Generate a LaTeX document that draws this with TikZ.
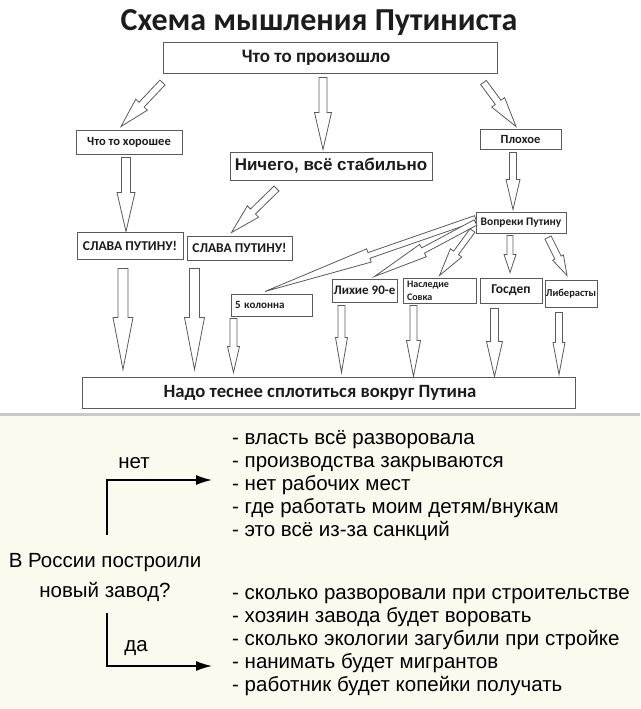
\documentclass[tikz,border=0pt]{standalone}
\usepackage{fontspec}
\setmainfont{Liberation Sans}
\newfontfamily\calib{Carlito}
\usetikzlibrary{calc,arrows.meta}
\newcommand\fsz[2]{\fontsize{#1}{#2}\selectfont}
\definecolor{beige}{HTML}{FBFAEF}
\definecolor{sepgray}{HTML}{C9C9C5}
\definecolor{boxgray}{HTML}{5A5A5A}
\definecolor{inkgray}{HTML}{1C1C1C}

\begin{document}
\begin{tikzpicture}[x=1pt, y=-1pt,
		box/.style={draw=boxgray, line width=1pt, inner sep=0pt, text=inkgray},
		hollow/.style n args={3}{draw=boxgray, line width=0.8pt, fill=white, to path={
			($(\tikztotarget)!#3!(\tikztostart)$) coordinate (hb)
			($(\tikztostart)!#1!90:(\tikztotarget)$) -- ($(hb)!#1!90:(\tikztotarget)$)
			-- ($(hb)!#2!90:(\tikztotarget)$) -- (\tikztotarget)
			-- ($(hb)!#2!-90:(\tikztotarget)$) -- ($(hb)!#1!-90:(\tikztotarget)$)
			-- ($(\tikztostart)!#1!-90:(\tikztotarget)$) -- cycle}},
		flow/.style={line width=1.4pt, -{Latex[length=16pt,width=10pt]}}]
	\useasboundingbox (0,0) rectangle (640,709); % page size
	\fill[beige] (0,414) rectangle (640,709); % lower panel
	\draw[sepgray, line width=3pt] (0,414) -- (640,414);
	\node[font=\calib\bfseries\fsz{32}{32}, text=inkgray] (title) at (319,23) {Схема мышления Путиниста};
	\node[box, minimum width=334pt, minimum height=30pt, font=\calib\bfseries\fsz{19}{20}] (happen) at (330,58) {\hspace*{-28pt}Что то произошло};
	\node[box, minimum width=106pt, minimum height=24pt, font=\calib\bfseries\fsz{12.5}{14}] (good) at (129,142) {Что то хорошее};
	\node[box, minimum width=81pt, minimum height=20pt, font=\calib\bfseries\fsz{12.5}{14}] (bad) at (520.5,139) {Плохое};
	\node[box, minimum width=202pt, minimum height=28pt, font=\bfseries\fsz{17}{19}] (stable) at (331,166) {Ничего, всё стабильно};
	\node[box, minimum width=106pt, minimum height=27pt, font=\calib\bfseries\fsz{13.5}{15}] (glory1) at (130,245.5) {СЛАВА ПУТИНУ!};
	\node[box, minimum width=105pt, minimum height=24pt, font=\calib\bfseries\fsz{13.5}{15}] (glory2) at (239.5,248) {СЛАВА ПУТИНУ!};
	\node[box, minimum width=90pt, minimum height=21pt, font=\calib\bfseries\fsz{11.5}{13}] (despite) at (521,222.5) {Вопреки Путину};
	\node[box, text width=73pt, inner xsep=4pt, minimum height=22pt, align=left, font=\calib\bfseries\fsz{11}{13}] (col5) at (271.5,305) {5 колонна};
	\node[box, minimum width=65pt, minimum height=23pt, font=\calib\bfseries\fsz{13}{15}] (wild90) at (364.5,290.5) {Лихие 90-е};
	\node[box, text width=65pt, inner xsep=4pt, minimum height=25pt, align=left, font=\calib\bfseries\fsz{10}{13}] (sovok) at (439.5,290.5) {Наследие\\Совка};
	\node[box, minimum width=62pt, minimum height=25pt, font=\calib\bfseries\fsz{13.5}{15}] (statedep) at (511,290.5) {Госдеп};
	\node[box, minimum width=52pt, minimum height=27pt, font=\calib\bfseries\fsz{10.5}{12}] (liberals) at (571,293.5) {Либерасты};
	\node[box, minimum width=493pt, minimum height=31pt, font=\calib\bfseries\fsz{18.7}{20}] (rally) at (328.5,392.5) {\hspace*{-17pt}Надо теснее сплотиться вокруг Путина};
	\draw[hollow={3.5pt}{8pt}{30pt}] ($(happen.south west)+(0,9)$) to ($(good.north)+(-8,-3)$); % to the good
	\draw[hollow={4pt}{8.5pt}{37pt}] ($(happen.south)+(-7,4)$) to ($(stable.north)+(-8,-2)$); % to nothing
	\draw[hollow={3.5pt}{8pt}{30pt}] ($(happen.south east)+(-14,9)$) to ($(bad.north)+(-4.5,-2)$); % to the bad
	\draw[hollow={4.5pt}{9pt}{39pt}] ($(good.south)+(-3,3)$) to ($(glory1.north)+(-4,0)$);
	\draw[hollow={3.5pt}{8pt}{30pt}] ($(stable.south west)+(47,8)$) to ($(glory2.north west)+(45,-3)$);
	\draw[hollow={3.5pt}{7pt}{30pt}] ($(bad.south)+(-7.5,3)$) to ($(despite.north)+(-8,-2)$);
	\draw[hollow={3pt}{7pt}{110pt}] ($(despite.west)+(0,-4)$) to ($(col5.north)+(-6.5,-2)$); % fan of excuses
	\draw[hollow={3pt}{7pt}{55pt}] (despite.west) to ($(wild90.north)+(10,-2)$);
	\draw[hollow={3pt}{7pt}{28pt}] ($(despite.south west)+(-3,-3)$) to ($(sovok.north)+(0,-2)$);
	\draw[hollow={3pt}{6pt}{18pt}] ($(despite.south)+(-11,2)$) to ($(statedep.north)+(-1,-5)$);
	\draw[hollow={3.5pt}{6pt}{20pt}] ($(despite.south)+(27,4)$) to ($(liberals.north)+(-4,-4)$);
	\draw[hollow={5pt}{10pt}{52pt}] ($(glory1.south)+(-7,9)$) to ($(glory1.south |- rally.north)+(-7,-7)$); % down to the bottom box
	\draw[hollow={5pt}{10pt}{52pt}] ($(glory2.south west)+(8,8)$) to ($(glory2.south west |- rally.north)+(8,-7)$);
	\draw[hollow={3.5pt}{6pt}{26pt}] ($(col5.south west)+(3,2)$) to ($(col5.south west |- rally.north)+(3,-4)$);
	\draw[hollow={3.5pt}{6pt}{35pt}] ($(wild90.south west)+(10,3)$) to ($(wild90.south west |- rally.north)+(10,-4)$);
	\draw[hollow={3.5pt}{7pt}{36pt}] ($(sovok.south west)+(11,2)$) to ($(sovok.south west |- rally.north)+(11,0)$);
	\draw[hollow={4pt}{8pt}{35pt}] ($(statedep.south west)+(15,5)$) to ($(statedep.south west |- rally.north)+(15,0)$);
	\draw[hollow={3.5pt}{6pt}{32pt}] ($(liberals.south)+(-12,5)$) to ($(liberals.south |- rally.north)+(-12,-2)$);
	\node[align=center, inner sep=0pt, font=\fsz{20.5}{23}] (ask) at (105,577) {В России построили\\[7pt]новый завод?};
	\node[anchor=west, align=left, inner sep=0pt, font=\fsz{20.5}{23}] (nolist) at (232,486) {- власть всё разворовала\\- производства закрываются\\- нет рабочих мест\\- где работать моим детям/внукам\\- это всё из-за санкций};
	\node[anchor=west, align=left, inner sep=0pt, font=\fsz{20.5}{23}] (yeslist) at (232,642.5) {- сколько разворовали при строительстве\\- хозяин завода будет воровать\\- сколько экологии загубили при стройке\\- нанимать будет мигрантов\\- работник будет копейки получать};
	\node[font=\fsz{20.5}{23}] (no) at (134,463) {нет};
	\node[font=\fsz{20.5}{23}] (yes) at (136,648) {да};
	\draw[flow] ($(ask.north)+(2,-18)$) |- ($(nolist.west)+(-20,-6)$); % answer no
	\draw[flow] ($(ask.south)+(2,12)$) |- ($(yeslist.west)+(-20,23.5)$); % answer yes
\end{tikzpicture}
\end{document}
